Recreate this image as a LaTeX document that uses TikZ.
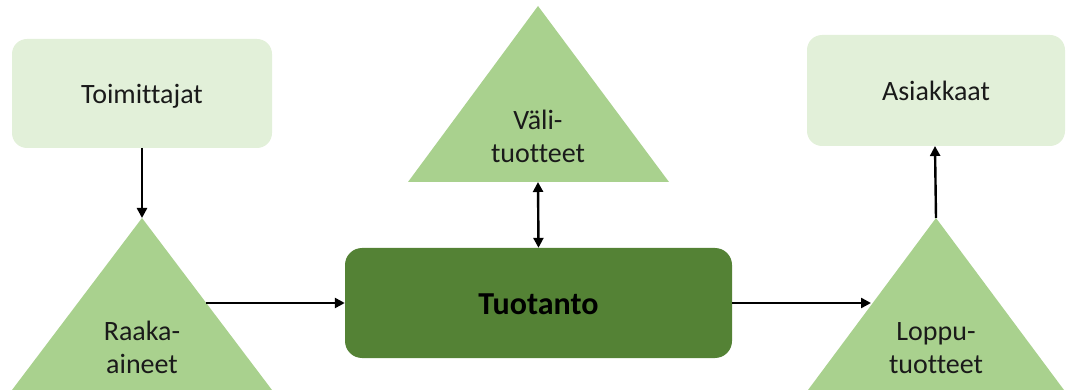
\documentclass[tikz,border=0pt]{standalone}
\usepackage{fontspec}
\setmainfont{Carlito}[Ligatures=NoCommon]
\usetikzlibrary{arrows.meta}
\definecolor{boxlight}{HTML}{E2F0D9}
\definecolor{trigreen}{HTML}{A9D18E}
\definecolor{prodgreen}{HTML}{548235}
\definecolor{ink}{HTML}{1A1A1A}
\begin{document}
\begin{tikzpicture}[x=1pt,y=-1pt,
  partybox/.style={fill=boxlight,rounded corners=15pt},
  stock/.style={fill=trigreen},
  lbl/.style={text=ink,align=center,inner sep=0pt,font=\fontsize{28}{33}\selectfont},
  flow/.style={line width=2.4pt,-{Triangle[length=10pt,width=10pt]}},
  twoway/.style={line width=2.4pt,{Triangle[length=10pt,width=10pt]}-{Triangle[length=10pt,width=10pt]}}]
\useasboundingbox (0,0) rectangle (1066,390);

% suppliers and customers
\fill[partybox] (12,39) rectangle (272,148);
\node[lbl,anchor=base] (toim) at (142,104) {Toimittajat};
\coordinate (toimS) at (142,148);
\fill[partybox] (807,35) rectangle (1065,146);
\node[lbl,anchor=base] (asiak) at (936,101) {Asiakkaat};
\coordinate (asiakS) at (935,146);

% stock triangles (label base = last line)
\fill[stock] (142,218) -- (272,390) -- (12,390) -- cycle;
\coordinate (raakaTop) at (142,218);
\coordinate (raakaR) at (206,303);
\node[lbl,anchor=base] (raaka) at (142,373) {Raaka-\\aineet};

\fill[stock] (538,6) -- (669,182) -- (408,182) -- cycle;
\coordinate (valiS) at (538,182);
\node[lbl,anchor=base] (vali) at (538,163) {Väli-\\tuotteet};

\fill[stock] (936,218) -- (1064,390) -- (808,390) -- cycle;
\coordinate (loppuTop) at (936,218);
\coordinate (loppuL) at (871,303);
\node[lbl,anchor=base] (loppu) at (936,373) {Loppu-\\tuotteet};

% production
\node[fill=prodgreen,rounded corners=17pt,minimum width=387pt,minimum height=110pt,
      inner sep=0pt] (prod) at (538.5,303) {};
\node[text=black,inner sep=0pt,anchor=base,font=\fontsize{32}{38}\selectfont\bfseries]
      (prodtxt) at (538.5,314) {Tuotanto};

% material flow
\draw[flow] (toimS) -- (raakaTop);
\draw[flow] (raakaR) -- (prod.west);
\draw[flow] (prod.east) -- (loppuL);
\draw[flow] (loppuTop) -- (asiakS);
\draw[twoway] (valiS) -- (prod.north);
\end{tikzpicture}
\end{document}
